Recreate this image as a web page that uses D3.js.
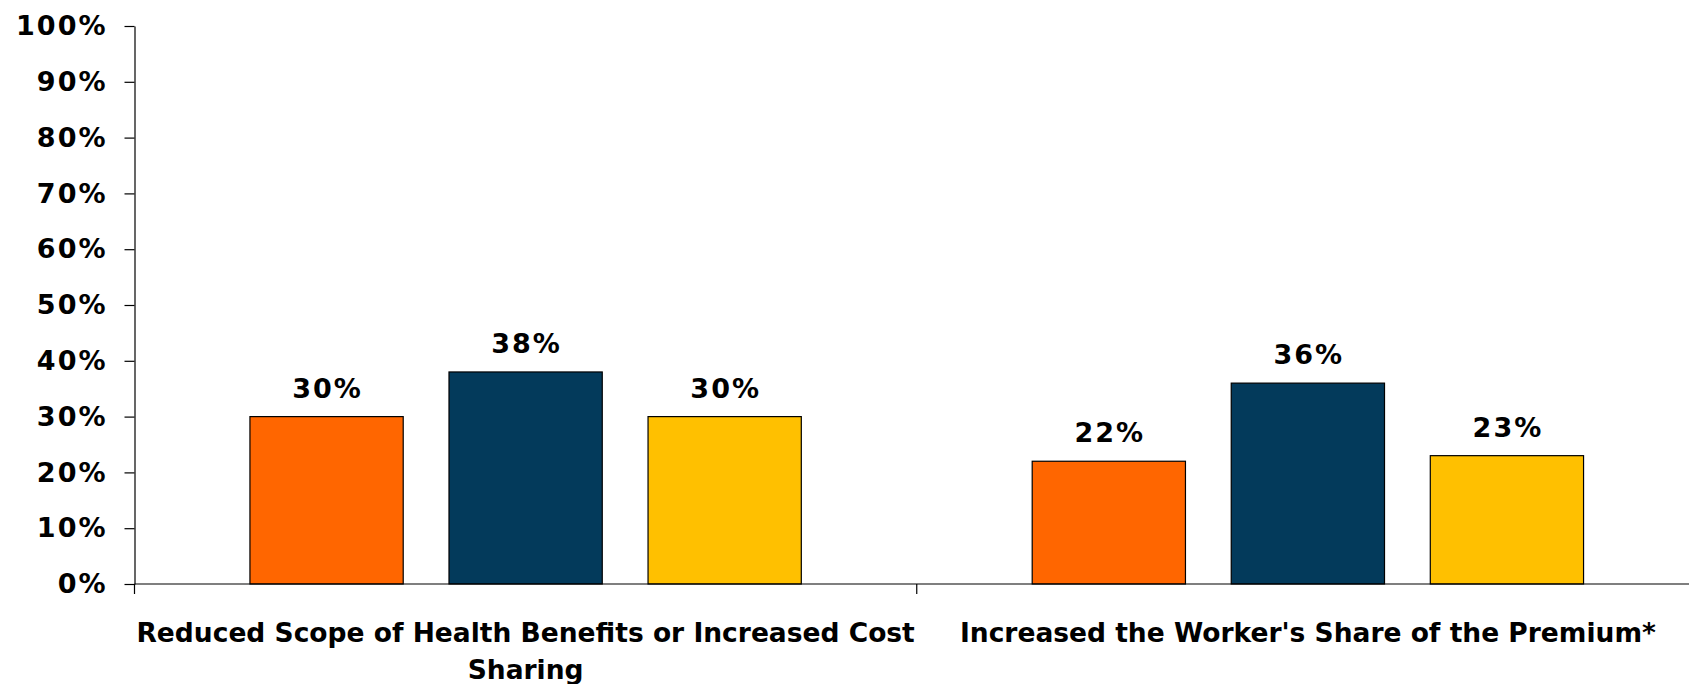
<!DOCTYPE html>
<html>
<head>
<meta charset="utf-8">
<script src="https://cdn.jsdelivr.net/npm/d3@7"></script>
<style>
  html, body { margin: 0; padding: 0; background: #fff; }
  svg { display: block; }
</style>
</head>
<body>
<div id="chart"></div>
<script>
// Chart data
const categories = [
  ["Reduced Scope of Health Benefits or Increased Cost", "Sharing"],
  ["Increased the Worker's Share of the Premium*"]
];
const seriesNames = ["Series A", "Series B", "Series C"];
const seriesValues = [
  [30, 22],
  [38, 36],
  [30, 23]
];
const yTicks = [0, 10, 20, 30, 40, 50, 60, 70, 80, 90, 100];
const colors = ["#ff6600", "#033a5b", "#ffc000"];

const width = 1689, height = 684;
const margin = { top: 26, right: -10, bottom: 100, left: 134.5 };

const svg = d3
  .select("#chart")
  .append("svg")
  .attr("width", width)
  .attr("height", height);

const innerW = width - margin.left - margin.right;
const innerH = height - margin.top - margin.bottom;

const g = svg.append("g").attr("transform", `translate(${margin.left},${margin.top})`);

// Scales
const x0 = d3.scaleBand().domain(d3.range(categories.length)).range([0, innerW]);
const x1 = d3
  .scaleBand()
  .domain(d3.range(seriesNames.length))
  .range([0, x0.bandwidth()])
  .paddingInner(0.23)
  .paddingOuter(0.58);
const y = d3.scaleLinear().domain([0, 100]).range([innerH, 0]);

const font = "'DejaVu Sans', Verdana, sans-serif";

// Y axis
const yAxis = g
  .append("g")
  .call(
    d3.axisLeft(y)
      .tickValues(yTicks)
      .tickSize(10)
      .tickSizeOuter(0)
      .tickPadding(17)
      .tickFormat((d) => d + "%")
  );
yAxis.select(".domain").attr("stroke", "#000").attr("stroke-width", 1.2);
yAxis.selectAll(".tick line").attr("stroke", "#000").attr("stroke-width", 1.2);
yAxis
  .selectAll(".tick text")
  .attr("fill", "#000")
  .style("font-family", font)
  .style("font-weight", "bold")
  .style("font-size", "27px")
  .style("letter-spacing", "2px");

// Bars
const groups = g
  .selectAll("g.group")
  .data(categories)
  .enter()
  .append("g")
  .attr("class", "group")
  .attr("transform", (d, i) => `translate(${x0(i)},0)`);

groups.each(function (c, ci) {
  const grp = d3.select(this);
  const vals = seriesValues.map((s) => s[ci]);
  grp
    .selectAll("rect")
    .data(vals)
    .enter()
    .append("rect")
    .attr("x", (d, si) => x1(si))
    .attr("y", (d) => y(d))
    .attr("width", x1.bandwidth())
    .attr("height", (d) => innerH - y(d))
    .attr("fill", (d, si) => colors[si])
    .attr("stroke", "#000")
    .attr("stroke-width", 1.2);

  grp
    .selectAll("text.value")
    .data(vals)
    .enter()
    .append("text")
    .attr("class", "value")
    .attr("x", (d, si) => x1(si) + x1.bandwidth() / 2 + 1)
    .attr("y", (d) => y(d) - 19)
    .attr("text-anchor", "middle")
    .style("font-family", font)
    .style("font-weight", "bold")
    .style("font-size", "27px")
    .style("letter-spacing", "2px")
    .text((d) => d + "%");
});

// X axis line and category ticks
g.append("line")
  .attr("x1", 0)
  .attr("x2", innerW)
  .attr("y1", innerH)
  .attr("y2", innerH)
  .attr("stroke", "#000")
  .attr("stroke-width", 1.2);

const bounds = d3.range(categories.length).map((i) => x0(i)).concat([x0.range()[1]]);
g.selectAll("line.ctick")
  .data(bounds)
  .enter()
  .append("line")
  .attr("class", "ctick")
  .attr("x1", (d) => d)
  .attr("x2", (d) => d)
  .attr("y1", innerH)
  .attr("y2", innerH + 10)
  .attr("stroke", "#000")
  .attr("stroke-width", 1.2);

// Category labels
g.selectAll("text.cat")
  .data(categories)
  .enter()
  .append("text")
  .attr("class", "cat")
  .attr("text-anchor", "middle")
  .attr("transform", (d, i) => `translate(${x0(i) + x0.bandwidth() / 2},${innerH + 58})`)
  .style("font-family", font)
  .style("font-weight", "bold")
  .style("font-size", "26.5px")
  .selectAll("tspan")
  .data((d) => d)
  .enter()
  .append("tspan")
  .attr("x", 0)
  .attr("dy", (d, i) => (i === 0 ? 0 : 36.5))
  .text((d) => d);
</script>
</body>
</html>
